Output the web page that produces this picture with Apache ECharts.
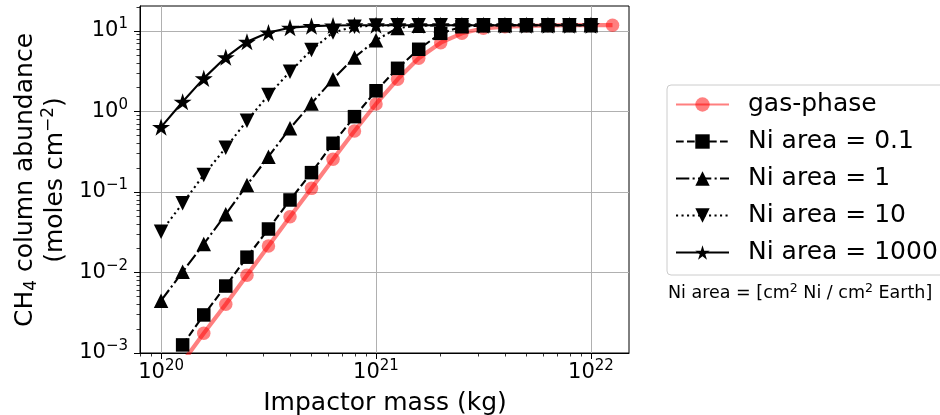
<!DOCTYPE html>
<html>
<head>
<meta charset="utf-8">
<script src="https://cdn.jsdelivr.net/npm/echarts@6/dist/echarts.min.js"></script>
<style>
html,body{margin:0;padding:0;background:#fff;}
#chart{width:940px;height:415px;}
</style>
</head>
<body>
<div id="chart"></div>
<script>
// ---- data ----
const masses = [1.0e20, 1.26e20, 1.58e20, 2.0e20, 2.51e20, 3.16e20, 3.98e20, 5.01e20, 6.31e20, 7.94e20,
                1.0e21, 1.26e21, 1.58e21, 2.0e21, 2.51e21, 3.16e21, 3.98e21, 5.01e21, 6.31e21, 7.94e21,
                1.0e22, 1.26e22];
const gasPhase = [null, 0.00077, 0.00176, 0.00403, 0.00923, 0.0213, 0.0493, 0.111, 0.255, 0.573,
                  1.24, 2.51, 4.58, 7.16, 9.36, 10.8, 11.3, 11.6, 11.7, 11.8, 11.8, 11.8];
const niArea01 = [null, 0.00126, 0.00297, 0.00679, 0.0155, 0.0347, 0.0796, 0.174, 0.403, 0.863,
                  1.81, 3.44, 5.93, 9.36, 11.3, 11.7, 11.8, 11.8, 11.8, 11.8, 11.8, null];
const niArea1 = [0.00447, 0.0102, 0.0226, 0.0529, 0.122, 0.275, 0.618, 1.26, 2.51, 4.7,
                 7.7, 10.9, 11.6, 11.8, 11.8, 11.8, 11.8, 11.8, 11.8, 11.8, 11.8, null];
const niArea10 = [0.0321, 0.0724, 0.163, 0.355, 0.77, 1.60, 3.12, 5.8, 9.6, 11.3,
                  11.7, 11.8, 11.8, 11.8, 11.8, 11.8, 11.8, 11.8, 11.8, 11.8, 11.8, null];
const niArea1000 = [0.64, 1.32, 2.58, 4.71, 7.36, 9.6, 11.0, 11.5, 11.7, 11.8,
                    11.8, 11.8, 11.8, 11.8, 11.8, 11.8, 11.8, 11.8, 11.8, 11.8, 11.8, null];
const seriesNames = ['gas-phase', 'Ni area = 0.1', 'Ni area = 1', 'Ni area = 10', 'Ni area = 1000'];
const xTickExps = [20, 21, 22];
const yTickExps = [-3, -2, -1, 0, 1];
const xName = 'Impactor mass (kg)';
const yName = 'CH{sub|4} column abundance\n(moles cm{sup|\u22122})';
const noteText = 'Ni area = [cm{sup|2} Ni / cm{sup|2} Earth]';

// ---- helpers ----
const FONT = 'DejaVu Sans';
const X_MIN = 19.902, X_MAX = 22.177, Y_MIN = -3, Y_MAX = 1.3106;
function minorTicks(lo, hi) {
  const out = [];
  for (let e = Math.floor(lo); e <= Math.ceil(hi); e++) {
    for (let m = 2; m <= 9; m++) {
      const v = e + Math.log10(m);
      if (v >= lo - 1e-9 && v <= hi + 1e-9) out.push(v);
    }
  }
  return out;
}
function toPts(vals) {
  return masses.map((m, i) => vals[i] == null ? null : [Math.log10(m), Math.log10(vals[i])]);
}
function expLabel(v) {
  const e = Math.round(v);
  const s = e < 0 ? '\u2212' + Math.abs(e) : String(e);
  return '{b|10}{sup|' + s + '}';
}
const labelRich = {
  b: {fontFamily: FONT, fontSize: 21, color: '#000', lineHeight: 28},
  sup: {fontFamily: FONT, fontSize: 15, color: '#000', lineHeight: 15, verticalAlign: 'top'}
};
const starPath = 'path://M0,-10 L2.245,-3.09 L9.511,-3.09 L3.633,1.18 L5.878,8.09 L0,3.82 L-5.878,8.09 L-3.633,1.18 L-9.511,-3.09 L-2.245,-3.09 Z';

const chart = echarts.init(document.getElementById('chart'), null, {renderer: 'canvas'});
const black = '#000000';
const option = {
  animation: false,
  backgroundColor: '#ffffff',
  grid: {left: 140, right: 311, top: 6, bottom: 62, show: true, borderColor: '#000', borderWidth: 1, backgroundColor: 'transparent'},
  xAxis: [
    {
      type: 'value', min: X_MIN, max: X_MAX, position: 'bottom',
      axisLine: {show: true, onZero: false, lineStyle: {color: '#000', width: 1}},
      axisTick: {show: true, inside: false, length: 6, customValues: xTickExps, lineStyle: {color: '#000', width: 1}},
      axisLabel: {show: true, margin: 6, customValues: xTickExps, formatter: expLabel, rich: labelRich},
      splitLine: {show: true, lineStyle: {color: '#b0b0b0', width: 1}}
    },
    {
      type: 'value', min: X_MIN, max: X_MAX, position: 'bottom',
      axisLine: {show: false, onZero: false},
      axisTick: {show: true, inside: false, length: 3.5, customValues: minorTicks(X_MIN, X_MAX), lineStyle: {color: '#000', width: 0.8}},
      axisLabel: {show: false},
      splitLine: {show: false}
    }
  ],
  yAxis: [
    {
      type: 'value', min: Y_MIN, max: Y_MAX, position: 'left',
      axisLine: {show: true, onZero: false, lineStyle: {color: '#000', width: 1}},
      axisTick: {show: true, inside: false, length: 6, customValues: yTickExps, lineStyle: {color: '#000', width: 1}},
      axisLabel: {show: true, margin: 12, customValues: yTickExps, formatter: expLabel, rich: labelRich},
      splitLine: {show: true, lineStyle: {color: '#b0b0b0', width: 1}}
    },
    {
      type: 'value', min: Y_MIN, max: Y_MAX, position: 'left',
      axisLine: {show: false, onZero: false},
      axisTick: {show: true, inside: false, length: 3.5, customValues: minorTicks(Y_MIN, Y_MAX), lineStyle: {color: '#000', width: 0.8}},
      axisLabel: {show: false},
      splitLine: {show: false}
    }
  ],
  legend: {
    orient: 'vertical', left: 667, top: 85,
    itemWidth: 53, itemHeight: 18, itemGap: 10,
    padding: [6, 14, 9, 8],
    borderColor: '#cccccc', borderWidth: 1, borderRadius: 4, backgroundColor: '#ffffff',
    textStyle: {fontFamily: FONT, fontSize: 25, color: '#000', lineHeight: 27, padding: [0, 0, 0, 14]},
    data: seriesNames
  },
  graphic: [
    {
      type: 'text', x: 40, y: 180, rotation: Math.PI / 2,
      style: {
        text: yName, align: 'center', verticalAlign: 'middle',
        fontFamily: FONT, fontSize: 25, lineHeight: 30, fill: '#000',
        rich: {
          sub: {fontFamily: FONT, fontSize: 17, lineHeight: 18, verticalAlign: 'bottom', fill: '#000'},
          sup: {fontFamily: FONT, fontSize: 17, lineHeight: 18, verticalAlign: 'top', fill: '#000'}
        }
      }
    },
    {
      type: 'text', x: 385, y: 403,
      style: {text: xName, align: 'center', verticalAlign: 'middle', fontFamily: FONT, fontSize: 25, fill: '#000'}
    },
    {
      type: 'text', x: 668, y: 293,
      style: {
        text: noteText, align: 'left', verticalAlign: 'middle',
        fontFamily: FONT, fontSize: 17.5, lineHeight: 22, fill: '#000',
        rich: {sup: {fontFamily: FONT, fontSize: 12.5, lineHeight: 12, verticalAlign: 'top', fill: '#000'}}
      }
    }
  ],
  series: [
    {
      name: seriesNames[0], type: 'line', data: toPts(gasPhase), clip: true, connectNulls: false,
      symbol: 'circle', symbolSize: 13.5, showAllSymbol: true,
      lineStyle: {color: 'rgba(255,0,0,0.5)', width: 4.2, type: 'solid'},
      itemStyle: {color: 'rgba(255,0,0,0.5)', borderWidth: 0}
    },
    {
      name: seriesNames[1], type: 'line', data: toPts(niArea01), clip: true,
      symbol: 'rect', symbolSize: 13.5, showAllSymbol: true,
      lineStyle: {color: black, width: 2.1, type: [7.7, 3.3]},
      itemStyle: {color: black, borderWidth: 0}
    },
    {
      name: seriesNames[2], type: 'line', data: toPts(niArea1), clip: true,
      symbol: 'triangle', symbolSize: 14.5, showAllSymbol: true,
      lineStyle: {color: black, width: 2.1, type: [13.3, 3.3, 2.1, 3.3]},
      itemStyle: {color: black, borderWidth: 0}
    },
    {
      name: seriesNames[3], type: 'line', data: toPts(niArea10), clip: true,
      symbol: 'triangle', symbolRotate: 180, symbolSize: 14.5, showAllSymbol: true,
      lineStyle: {color: black, width: 2.1, type: [2.1, 3.4]},
      itemStyle: {color: black, borderWidth: 0}
    },
    {
      name: seriesNames[4], type: 'line', data: toPts(niArea1000), clip: true,
      symbol: starPath, symbolSize: [18, 17.1], showAllSymbol: true,
      lineStyle: {color: black, width: 2.1, type: 'solid'},
      itemStyle: {color: black, borderWidth: 0}
    }
  ]
};
chart.setOption(option);
</script>
</body>
</html>
